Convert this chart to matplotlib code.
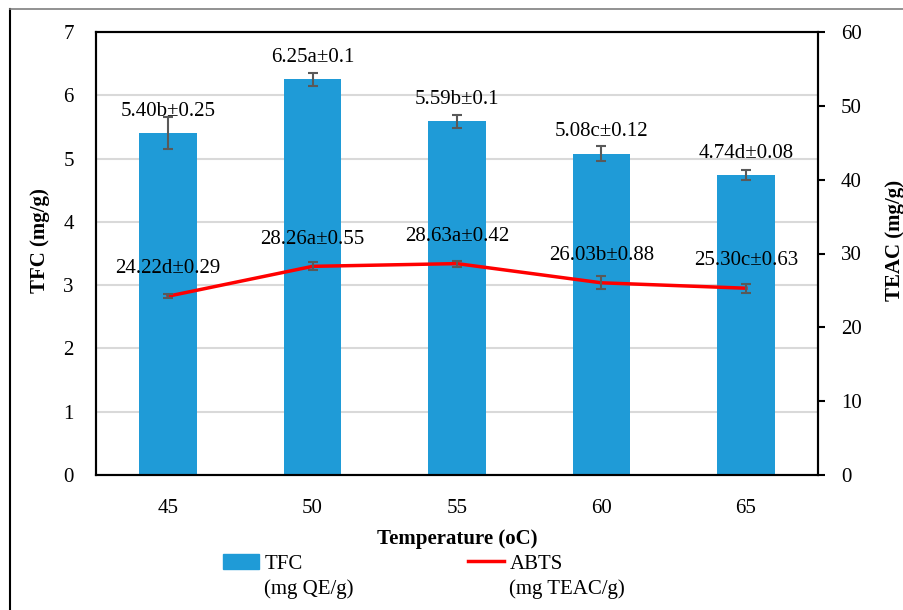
import numpy as np
import matplotlib.pyplot as plt
from matplotlib.lines import Line2D

temps = ["45", "50", "55", "60", "65"]
tfc = [5.40, 6.25, 5.59, 5.08, 4.74]
tfc_err = [0.25, 0.10, 0.10, 0.12, 0.08]
tfc_labels = ["5.40b\u00b10.25", "6.25a\u00b10.1", "5.59b\u00b10.1", "5.08c\u00b10.12", "4.74d\u00b10.08"]
abts = [24.22, 28.26, 28.63, 26.03, 25.30]
abts_err = [0.29, 0.55, 0.42, 0.88, 0.63]
abts_labels = ["24.22d\u00b10.29", "28.26a\u00b10.55", "28.63a\u00b10.42", "26.03b\u00b10.88", "25.30c\u00b10.63"]

plt.rcParams['font.family'] = ['Liberation Serif', 'DejaVu Serif']
fs = 15

fig = plt.figure(figsize=(9.04, 6.10), dpi=100)
ax = fig.add_axes([96 / 904, 1 - 475 / 610, (818 - 96) / 904, (475 - 32) / 610])
x = np.arange(len(temps))

ax.bar(x, tfc, width=0.4, color="#1f9bd7", zorder=2)
ax.errorbar(x, tfc, yerr=tfc_err, fmt="none", ecolor="#595959", elinewidth=1.5, capsize=3.5, capthick=1.5, zorder=3)
for xi, v, s in zip(x, tfc, tfc_labels):
    ax.text(xi, v + 0.34, s, ha="center", va="center", fontsize=fs, zorder=5)

ax.set_xlim(-0.5, 4.5)
ax.set_ylim(0, 7)
ax.set_yticks(range(8))
ax.set_xticks(x)
ax.set_xticklabels(temps)
ax.tick_params(axis="y", length=0, pad=16, labelsize=fs)
ax.tick_params(axis="x", length=0, pad=17, labelsize=fs)
ax.grid(axis="y", color="#d9d9d9", linewidth=1.5, zorder=0)
ax.set_axisbelow(True)
for sp in ax.spines.values():
    sp.set_linewidth(1.5)
ax.set_ylabel("TFC (mg/g)", fontsize=fs, fontweight="bold")
ax.yaxis.set_label_coords(-0.064, 0.53)
ax.set_xlabel("Temperature (oC)", fontsize=fs, fontweight="bold", labelpad=8)

ax2 = ax.twinx()
ax2.plot(x, abts, color="#ff0000", linewidth=2.5, zorder=3)
ax2.errorbar(x, abts, yerr=abts_err, fmt="none", ecolor="#595959", elinewidth=1.5, capsize=3.5, capthick=1.5, zorder=4)
for xi, v, s in zip(x, abts, abts_labels):
    ax2.text(xi, v + 3.7, s, ha="center", va="center", fontsize=fs, zorder=5)
ax2.set_ylim(0, 60)
ax2.set_yticks(range(0, 61, 10))
ax2.tick_params(axis="y", direction="out", length=5, width=1.5, pad=11.5, labelsize=fs)
ax2.set_ylabel("TEAC (mg/g)", fontsize=fs, fontweight="bold")
ax2.yaxis.set_label_coords(1.0928, 0.53)
for sp in ax2.spines.values():
    sp.set_linewidth(1.5)

# legend entries, second line of each label as separate text
leg_kw = dict(loc="upper left", frameon=False, fontsize=fs, handlelength=1.75,
              handletextpad=0.25, borderaxespad=0, borderpad=0)
leg1 = fig.legend([plt.Rectangle((0, 0), 1, 1, color="#1f9bd7")], ["TFC"],
                  bbox_to_anchor=(223 / 904, 1 - 554 / 610), **leg_kw)
leg2 = fig.legend([Line2D([0], [0], color="#ff0000", linewidth=2.5)], ["ABTS"],
                  bbox_to_anchor=(468 / 904, 1 - 554 / 610), **leg_kw)
fig.text(264 / 904, 1 - 589 / 610, "(mg QE/g)", fontsize=fs, va="center", ha="left")
fig.text(509 / 904, 1 - 589 / 610, "(mg TEAC/g)", fontsize=fs, va="center", ha="left")

# outer frame
fig.add_artist(Line2D([10 / 904, 10 / 904], [0, 1 - 9 / 610], color="black", linewidth=1.5, transform=fig.transFigure))
fig.add_artist(Line2D([10 / 904, 1], [1 - 9 / 610, 1 - 9 / 610], color="#7f7f7f", linewidth=1.2, transform=fig.transFigure))

fig.savefig("out.png", dpi=100)
